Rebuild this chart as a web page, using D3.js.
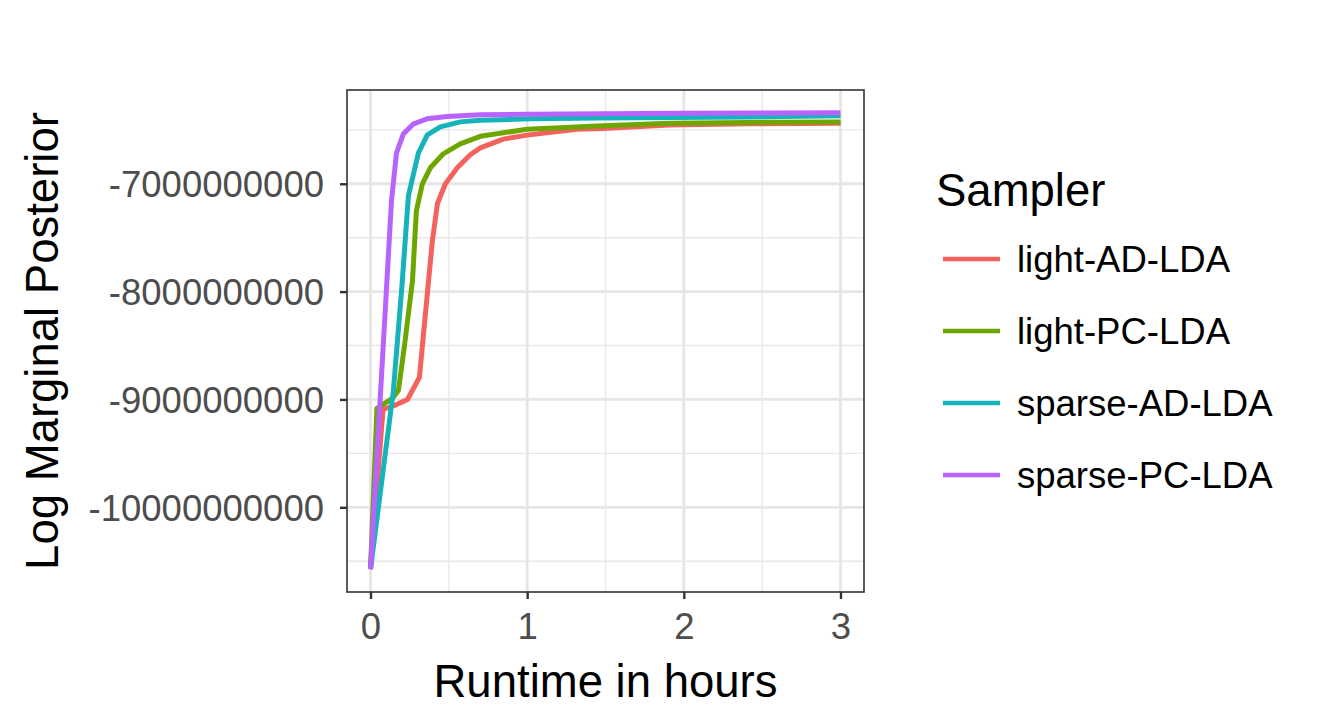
<!DOCTYPE html>
<html>
<head>
<meta charset="utf-8">
<script src="https://cdn.jsdelivr.net/npm/d3@7"></script>
<style>
  html, body { margin: 0; padding: 0; background: #fff; }
  svg { display: block; font-family: "Liberation Sans", Arial, sans-serif; }
</style>
</head>
<body>
<svg id="chart" width="1320" height="720"></svg>
<script>
// ---- data (runtime in hours, log marginal posterior) ----
const samplers = ["light-AD-LDA", "light-PC-LDA", "sparse-AD-LDA", "sparse-PC-LDA"];
const colors = ["#F4625E", "#6DA600", "#15B4BB", "#B963FF"];

const lightAD_x = [0, 0.080, 0.153, 0.236, 0.312, 0.395, 0.427, 0.478, 0.554, 0.637, 0.701, 0.847, 1.0, 1.318, 1.484, 1.911, 2.42, 3.0];
const lightAD_y = [-10.574e9, -9.093e9, -9.056e9, -9.000e9, -8.796e9, -7.528e9, -7.185e9, -7.000e9, -6.852e9, -6.731e9, -6.667e9, -6.586e9, -6.549e9, -6.495e9, -6.488e9, -6.456e9, -6.444e9, -6.438e9];

const lightPC_x = [0, 0.041, 0.140, 0.178, 0.217, 0.268, 0.293, 0.331, 0.382, 0.465, 0.573, 0.701, 1.0, 1.484, 1.911, 2.42, 3.0];
const lightPC_y = [-10.574e9, -9.083e9, -8.991e9, -8.917e9, -8.500e9, -7.898e9, -7.250e9, -7.000e9, -6.852e9, -6.722e9, -6.630e9, -6.560e9, -6.494e9, -6.463e9, -6.438e9, -6.431e9, -6.426e9];

const sparseAD_x = [0, 0.146, 0.201, 0.242, 0.306, 0.363, 0.446, 0.573, 0.701, 1.019, 1.465, 1.911, 2.42, 3.0];
const sparseAD_y = [-10.574e9, -8.917e9, -7.944e9, -7.111e9, -6.713e9, -6.546e9, -6.472e9, -6.426e9, -6.410e9, -6.398e9, -6.391e9, -6.386e9, -6.380e9, -6.370e9];

const sparsePC_x = [0, 0.134, 0.166, 0.210, 0.275, 0.360, 0.490, 0.700, 1.0, 1.5, 2.0, 2.5, 3.0];
const sparsePC_y = [-10.574e9, -7.157e9, -6.713e9, -6.537e9, -6.444e9, -6.398e9, -6.377e9, -6.361e9, -6.355e9, -6.350e9, -6.345e9, -6.343e9, -6.342e9];

const xTicks = [0, 1, 2, 3];
const xTickLabels = ["0", "1", "2", "3"];
const xMinor = [0.5, 1.5, 2.5];
const yTicks = [-10e9, -9e9, -8e9, -7e9];
const yTickLabels = ["-10000000000", "-9000000000", "-8000000000", "-7000000000"];
const yMinor = [-10.5e9, -9.5e9, -8.5e9, -7.5e9, -6.5e9];

const xTitle = "Runtime in hours";
const yTitle = "Log Marginal Posterior";
const legendTitle = "Sampler";

// ---- build series ----
const xsAll = [lightAD_x, lightPC_x, sparseAD_x, sparsePC_x];
const ysAll = [lightAD_y, lightPC_y, sparseAD_y, sparsePC_y];
const series = samplers.map((name, i) => ({
  name, color: colors[i],
  points: xsAll[i].map((x, j) => ({ x, y: ysAll[i][j] }))
}));

// ---- layout ----
const panel = { left: 347, right: 864, top: 90, bottom: 592 };
const svg = d3.select("#chart");

const allX = xsAll.flat(), allY = ysAll.flat();
const [x0, x1] = d3.extent(allX);
const [y0, y1] = d3.extent(allY);
const xp = (x1 - x0) * 0.05, yp = (y1 - y0) * 0.05;

const x = d3.scaleLinear().domain([x0 - xp, x1 + xp]).range([panel.left, panel.right]);
const y = d3.scaleLinear().domain([y0 - yp, y1 + yp]).range([panel.bottom, panel.top]);

const grid = svg.append("g");
grid.selectAll(".xminor").data(xMinor).join("line")
  .attr("x1", d => x(d)).attr("x2", d => x(d))
  .attr("y1", panel.top).attr("y2", panel.bottom)
  .attr("stroke", "#E8E8E8").attr("stroke-width", 1.4);
grid.selectAll(".yminor").data(yMinor).join("line")
  .attr("y1", d => y(d)).attr("y2", d => y(d))
  .attr("x1", panel.left).attr("x2", panel.right)
  .attr("stroke", "#E8E8E8").attr("stroke-width", 1.4);
grid.selectAll(".xmajor").data(xTicks).join("line")
  .attr("x1", d => x(d)).attr("x2", d => x(d))
  .attr("y1", panel.top).attr("y2", panel.bottom)
  .attr("stroke", "#E6E6E6").attr("stroke-width", 2.8);
grid.selectAll(".ymajor").data(yTicks).join("line")
  .attr("y1", d => y(d)).attr("y2", d => y(d))
  .attr("x1", panel.left).attr("x2", panel.right)
  .attr("stroke", "#E6E6E6").attr("stroke-width", 2.8);

// ---- lines ----
const line = d3.line().x(d => x(d.x)).y(d => y(d.y));
svg.append("g").selectAll("path").data(series).join("path")
  .attr("d", d => line(d.points))
  .attr("fill", "none")
  .attr("stroke", d => d.color)
  .attr("stroke-width", 5)
  .attr("stroke-linejoin", "round")
  .attr("stroke-linecap", "butt");

// ---- panel border ----
svg.append("rect")
  .attr("x", panel.left).attr("y", panel.top)
  .attr("width", panel.right - panel.left).attr("height", panel.bottom - panel.top)
  .attr("fill", "none").attr("stroke", "#333333").attr("stroke-width", 1.6);

// ---- axes ----
const xAxis = d3.axisBottom(x).tickValues(xTicks).tickSize(7).tickPadding(6)
  .tickFormat((d, i) => xTickLabels[i]);
const gx = svg.append("g").attr("transform", `translate(0,${panel.bottom})`).call(xAxis);
gx.select(".domain").remove();
gx.selectAll(".tick line").attr("stroke", "#333333").attr("stroke-width", 2.4);
gx.selectAll(".tick text").attr("fill", "#4D4D4D").attr("font-size", "36.5px")
  .attr("font-family", "Liberation Sans, Arial, sans-serif").attr("dy", null).attr("y", 47);

const yAxis = d3.axisLeft(y).tickValues(yTicks).tickSize(7).tickPadding(8)
  .tickFormat((d, i) => yTickLabels[i]);
const gy = svg.append("g").attr("transform", `translate(${panel.left},0)`).call(yAxis);
gy.select(".domain").remove();
gy.selectAll(".tick line").attr("stroke", "#333333").attr("stroke-width", 2.4);
gy.selectAll(".tick text").attr("fill", "#4D4D4D").attr("font-size", "36.5px")
  .attr("font-family", "Liberation Sans, Arial, sans-serif").attr("x", -23).attr("dy", "0.35em");

// ---- titles ----
svg.append("text").attr("x", (panel.left + panel.right) / 2).attr("y", 697)
  .attr("text-anchor", "middle").attr("font-size", "45.5px").attr("fill", "#000")
  .text(xTitle);
svg.append("text")
  .attr("transform", `translate(58,${(panel.top + panel.bottom) / 2}) rotate(-90)`)
  .attr("text-anchor", "middle").attr("font-size", "45.5px").attr("fill", "#000")
  .text(yTitle);

// ---- legend ----
const legend = svg.append("g");
legend.append("text").attr("x", 936).attr("y", 206)
  .attr("font-size", "45.5px").attr("fill", "#000").text(legendTitle);
const keyY = d3.scalePoint().domain(samplers).range([259, 475]);
const items = legend.selectAll(".item").data(series).join("g")
  .attr("transform", d => `translate(0,${keyY(d.name)})`);
items.append("line").attr("x1", 943).attr("x2", 1000).attr("y1", 0).attr("y2", 0)
  .attr("stroke", d => d.color).attr("stroke-width", 4.3);
items.append("text").attr("x", 1017).attr("y", 0).attr("dy", "0.35em")
  .attr("font-size", "36.5px").attr("fill", "#000").text(d => d.name);
</script>
</body>
</html>
